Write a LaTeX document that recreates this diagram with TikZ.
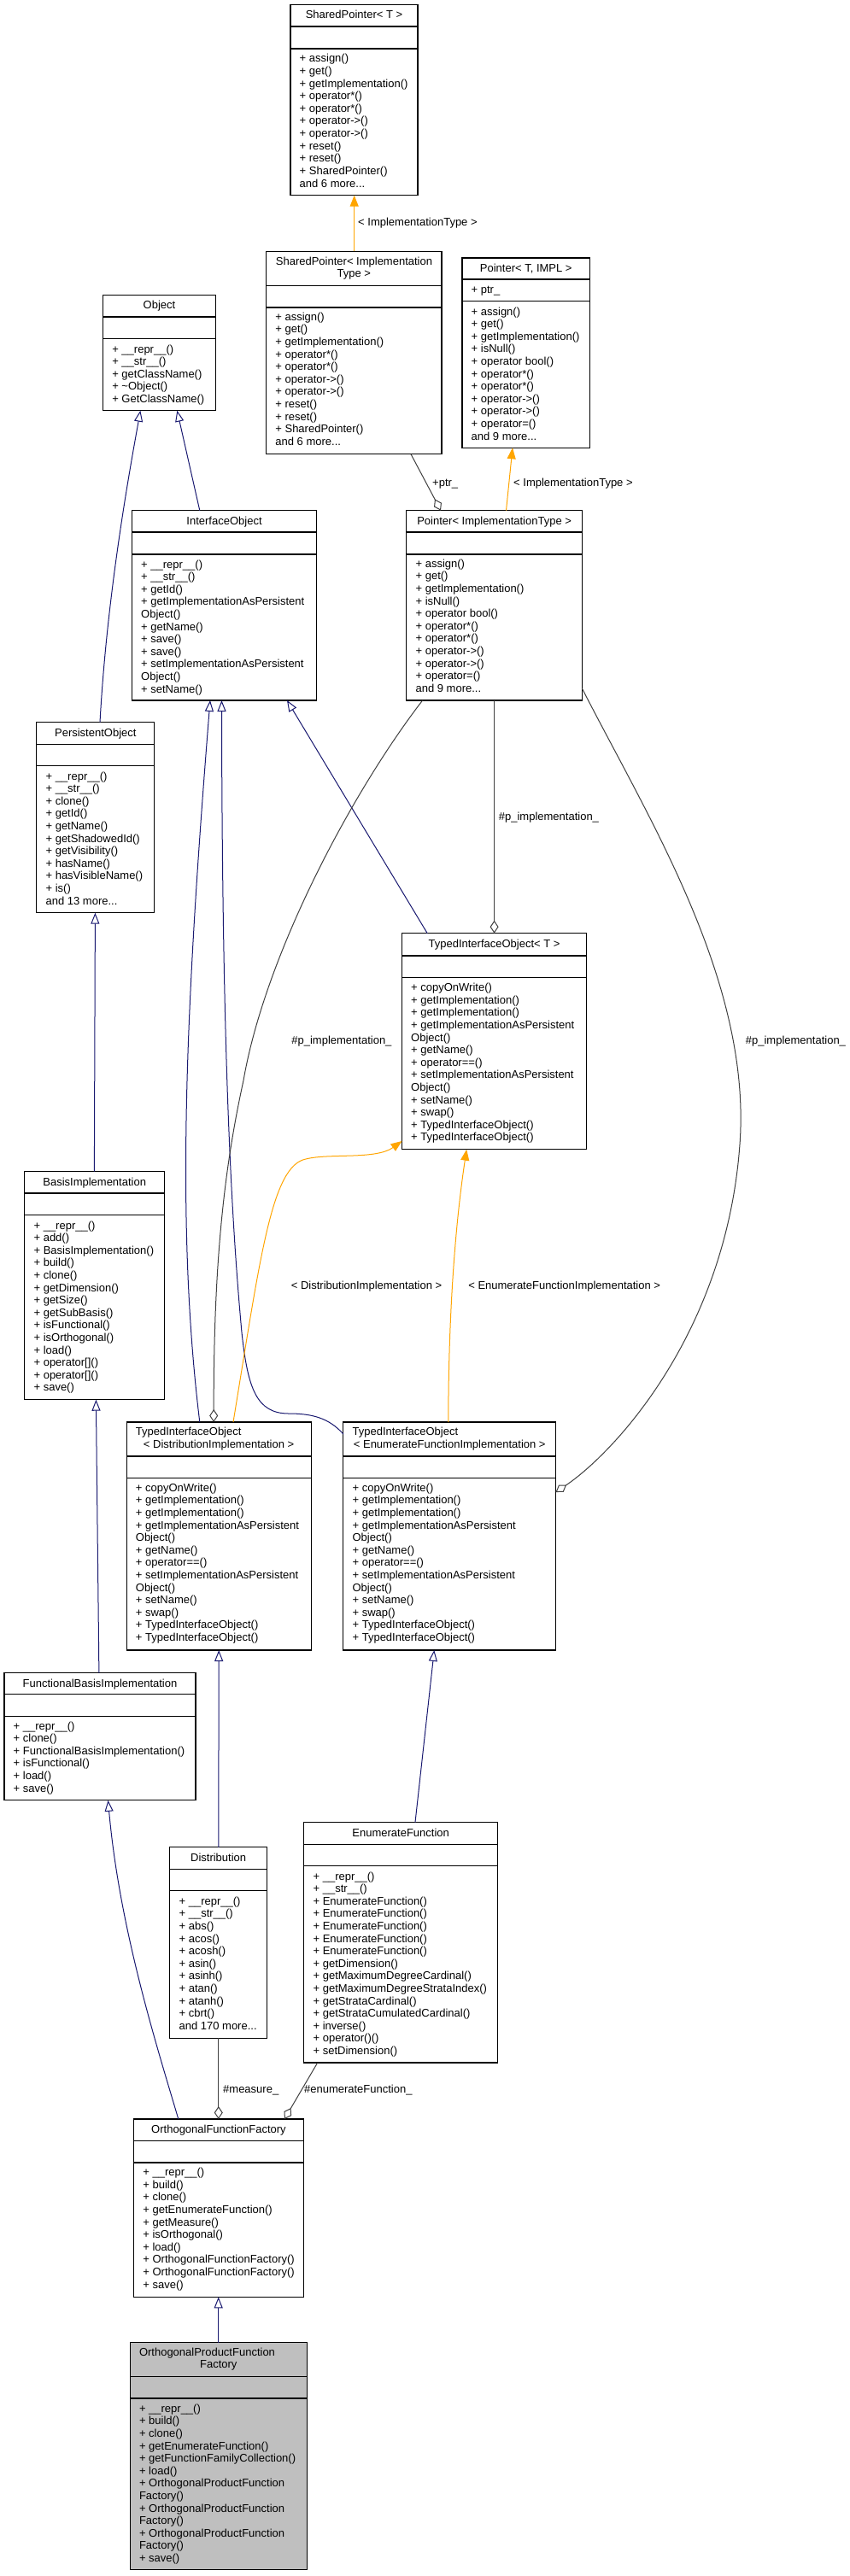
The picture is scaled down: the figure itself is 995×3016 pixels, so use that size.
\documentclass[tikz,border=0pt]{standalone}
\usepackage{fontspec}
\setmainfont{Liberation Sans}
\usetikzlibrary{arrows.meta,calc}
\definecolor{inhcol}{HTML}{191970}
\definecolor{tmplcol}{HTML}{FFA500}
\definecolor{usecol}{HTML}{404040}
\definecolor{focusfill}{HTML}{BFBFBF}
\tikzset{
  box/.style={draw=black, line width=1.1pt, fill=white, inner sep=0pt, outer sep=0pt},
  boxline/.style={draw=black, line width=1.1pt},
  mtext/.style={anchor=west, inner sep=0pt, text height=8pt, text depth=0pt, font=\fontsize{13}{14.6}\selectfont},
  ttext/.style={anchor=center, inner sep=0pt, text height=8pt, text depth=0pt, font=\fontsize{13}{14.6}\selectfont},
  lbl/.style={anchor=west, inner sep=0pt, text height=8pt, text depth=0pt, font=\fontsize{13}{14.6}\selectfont},
  inh/.style={draw=inhcol, line width=1pt, -{Triangle[open, length=13pt, width=10pt, line width=1pt]}},
  tmpl/.style={draw=tmplcol, line width=1pt, -{Triangle[length=13pt, width=10pt]}},
  use/.style={draw=usecol, line width=1pt, {Diamond[open, length=15pt, width=10pt, line width=1pt]}-},
}
\newcommand{\threedots}{...}
\newcommand{\umlbox}[8]{%
  \node[box,#8, minimum width={(#4)-(#2)}, minimum height={(#5)-(#3)}, anchor=north west] (#1) at (#2,#3) {};
  \draw[boxline] (#2,#6) -- (#4,#6) (#2,#7) -- (#4,#7);
}
\newcommand{\mlist}[4]{%
  \foreach \mt [count=\mi from 0] in {#4} {\node[mtext] (#1-\mi) at ({#2}, {#3+\mi*14.6}) {\mt};}
}
\begin{document}
\begin{tikzpicture}[x=1pt, y=-1pt]
\useasboundingbox (0,0) rectangle (995,3016);
\fill[white] (0,0) rectangle (995,3016);

% ---------- boxes ----------
% SharedPointer< T >
\umlbox{spT}{340}{5.7}{489}{228.7}{31}{57}{}
\node[ttext] (spT-t) at (414.5,18) {SharedPointer< T >};
\mlist{spT}{350.5}{69}{{+ assign()},{+ get()},{+ getImplementation()},{+ operator*()},{+ operator*()},{+ operator->()},{+ operator->()},{+ reset()},{+ reset()},{+ SharedPointer()},{and 6 more\threedots}}

% SharedPointer< ImplementationType >
\umlbox{spI}{311.7}{294.3}{517}{531.7}{334.3}{360}{}
\node[mtext] (spI-t1) at (322.7,306.3) {SharedPointer< Implementation};
\node[ttext] (spI-t2) at (414.35,320.7) {Type >};
\mlist{spI}{322.2}{371.3}{{+ assign()},{+ get()},{+ getImplementation()},{+ operator*()},{+ operator*()},{+ operator->()},{+ operator->()},{+ reset()},{+ reset()},{+ SharedPointer()},{and 6 more\threedots}}

% Pointer< T, IMPL >
\umlbox{ptrTI}{541}{302}{690.5}{524.3}{327}{352.3}{}
\node[ttext] (ptrTI-t) at (615.75,314) {Pointer< T, IMPL >};
\node[mtext] (ptrTI-a) at (551.5,339.3) {+ ptr\_};
\mlist{ptrTI}{551.5}{365}{{+ assign()},{+ get()},{+ getImplementation()},{+ isNull()},{+ operator bool()},{+ operator*()},{+ operator*()},{+ operator->()},{+ operator->()},{+ operator=()},{and 9 more\threedots}}

% Object
\umlbox{obj}{120.6}{345.7}{252.4}{480.7}{371}{396.7}{}
\node[ttext] (obj-t) at (186.5,357.8) {Object};
\mlist{obj}{131.1}{409}{{+ \_\_repr\_\_()},{+ \_\_str\_\_()},{+ getClassName()},{+ \textasciitilde Object()},{+ GetClassName()}}

% InterfaceObject
\umlbox{io}{154.5}{597.7}{370.6}{820}{623}{649}{}
\node[ttext] (io-t) at (262.55,610) {InterfaceObject};
\mlist{io}{165}{661}{{+ \_\_repr\_\_()},{+ \_\_str\_\_()},{+ getId()},{+ getImplementationAsPersistent},{Object()},{+ getName()},{+ save()},{+ save()},{+ setImplementationAsPersistent},{Object()},{+ setName()}}

% Pointer< ImplementationType >
\umlbox{ptrI}{475.9}{597.7}{681.4}{820}{623}{649}{}
\node[ttext] (ptrI-t) at (578.65,610) {Pointer< ImplementationType >};
\mlist{ptrI}{486.4}{660.3}{{+ assign()},{+ get()},{+ getImplementation()},{+ isNull()},{+ operator bool()},{+ operator*()},{+ operator*()},{+ operator->()},{+ operator->()},{+ operator=()},{and 9 more\threedots}}

% PersistentObject
\umlbox{po}{42.9}{845.7}{180.7}{1068.7}{871.3}{896.7}{}
\node[ttext] (po-t) at (111.8,858) {PersistentObject};
\mlist{po}{53.4}{909}{{+ \_\_repr\_\_()},{+ \_\_str\_\_()},{+ clone()},{+ getId()},{+ getName()},{+ getShadowedId()},{+ getVisibility()},{+ hasName()},{+ hasVisibleName()},{+ is()},{and 13 more\threedots}}

% TypedInterfaceObject< T >
\umlbox{tioT}{470.5}{1092.7}{686.6}{1345.7}{1119}{1144.7}{}
\node[ttext] (tioT-t) at (578.55,1105.7) {TypedInterfaceObject< T >};
\mlist{tioT}{481}{1156.7}{{+ copyOnWrite()},{+ getImplementation()},{+ getImplementation()},{+ getImplementationAsPersistent},{Object()},{+ getName()},{+ operator==()},{+ setImplementationAsPersistent},{Object()},{+ setName()},{+ swap()},{+ TypedInterfaceObject()},{+ TypedInterfaceObject()}}

% BasisImplementation
\umlbox{bi}{28.9}{1371.7}{192.5}{1638.7}{1397}{1422.7}{}
\node[ttext] (bi-t) at (110.7,1384) {BasisImplementation};
\mlist{bi}{39.4}{1435}{{+ \_\_repr\_\_()},{+ add()},{+ BasisImplementation()},{+ build()},{+ clone()},{+ getDimension()},{+ getSize()},{+ getSubBasis()},{+ isFunctional()},{+ isOrthogonal()},{+ load()},{+ operator[]()},{+ operator[]()},{+ save()}}

% TypedInterfaceObject< DistributionImplementation >
\umlbox{tioD}{148.2}{1665}{364.1}{1932}{1705}{1730.7}{}
\node[mtext] (tioD-t1) at (158.7,1676.3) {TypedInterfaceObject};
\node[ttext] (tioD-t2) at (256.15,1691.7) {< DistributionImplementation >};
\mlist{tioD}{158.7}{1742.3}{{+ copyOnWrite()},{+ getImplementation()},{+ getImplementation()},{+ getImplementationAsPersistent},{Object()},{+ getName()},{+ operator==()},{+ setImplementationAsPersistent},{Object()},{+ setName()},{+ swap()},{+ TypedInterfaceObject()},{+ TypedInterfaceObject()}}

% TypedInterfaceObject< EnumerateFunctionImplementation >
\umlbox{tioE}{401.9}{1665}{650.6}{1932}{1705}{1730.7}{}
\node[mtext] (tioE-t1) at (412.4,1676.3) {TypedInterfaceObject};
\node[ttext] (tioE-t2) at (526.25,1691.7) {< EnumerateFunctionImplementation >};
\mlist{tioE}{412.4}{1742.3}{{+ copyOnWrite()},{+ getImplementation()},{+ getImplementation()},{+ getImplementationAsPersistent},{Object()},{+ getName()},{+ operator==()},{+ setImplementationAsPersistent},{Object()},{+ setName()},{+ swap()},{+ TypedInterfaceObject()},{+ TypedInterfaceObject()}}

% FunctionalBasisImplementation
\umlbox{fbi}{5}{1958.7}{229}{2107.8}{1983.7}{2009.3}{}
\node[ttext] (fbi-t) at (117,1971) {FunctionalBasisImplementation};
\mlist{fbi}{15.5}{2021}{{+ \_\_repr\_\_()},{+ clone()},{+ FunctionalBasisImplementation()},{+ isFunctional()},{+ load()},{+ save()}}

% Distribution
\umlbox{dist}{198.9}{2162.9}{312.4}{2386.1}{2188.7}{2213.5}{}
\node[ttext] (dist-t) at (255.65,2175) {Distribution};
\mlist{dist}{209.4}{2226.3}{{+ \_\_repr\_\_()},{+ \_\_str\_\_()},{+ abs()},{+ acos()},{+ acosh()},{+ asin()},{+ asinh()},{+ atan()},{+ atanh()},{+ cbrt()},{and 170 more\threedots}}

% EnumerateFunction
\umlbox{ef}{355.9}{2133.6}{582.4}{2415}{2159.1}{2184.9}{}
\node[ttext] (ef-t) at (469.15,2146) {EnumerateFunction};
\mlist{ef}{366.4}{2197}{{+ \_\_repr\_\_()},{+ \_\_str\_\_()},{+ EnumerateFunction()},{+ EnumerateFunction()},{+ EnumerateFunction()},{+ EnumerateFunction()},{+ EnumerateFunction()},{+ getDimension()},{+ getMaximumDegreeCardinal()},{+ getMaximumDegreeStrataIndex()},{+ getStrataCardinal()},{+ getStrataCumulatedCardinal()},{+ inverse()},{+ operator()()},{+ setDimension()}}

% OrthogonalFunctionFactory
\umlbox{ofac}{156.7}{2481}{355.3}{2689.3}{2506.7}{2532}{}
\node[ttext] (ofac-t) at (256,2493) {OrthogonalFunctionFactory};
\mlist{ofac}{167.2}{2543.7}{{+ \_\_repr\_\_()},{+ build()},{+ clone()},{+ getEnumerateFunction()},{+ getMeasure()},{+ isOrthogonal()},{+ load()},{+ OrthogonalFunctionFactory()},{+ OrthogonalFunctionFactory()},{+ save()}}

% OrthogonalProductFunctionFactory
\umlbox{opfac}{152.3}{2742.7}{359.3}{3008.7}{2782.7}{2808}{fill=focusfill}
\node[mtext] (opfac-t1) at (162.8,2754.3) {OrthogonalProductFunction};
\node[ttext] (opfac-t2) at (255.8,2768.3) {Factory};
\mlist{opfac}{162.8}{2820.3}{{+ \_\_repr\_\_()},{+ build()},{+ clone()},{+ getEnumerateFunction()},{+ getFunctionFamilyCollection()},{+ load()},{+ OrthogonalProductFunction},{Factory()},{+ OrthogonalProductFunction},{Factory()},{+ OrthogonalProductFunction},{Factory()},{+ save()}}

% ---------- connectors ----------
\draw[tmpl] (spI.north -| 414.7,0) -- (spT.south -| 414.7,0);
\draw[tmpl] (ptrI.north -| 592.5,0) -- (ptrTI.south -| 600,0);
\draw[use] (ptrI.north -| 516,0) -- (spI.south -| 481,0);
\draw[inh] (po.north -| 117,0) .. controls (125,700) and (150,560) .. (obj.south -| 164.4,0);
\draw[inh] (io.north -| 233.8,0) -- (obj.south -| 207.3,0);
\draw[inh] (tioD.north -| 233.8,0) .. controls (205,1430) and (218,1170) .. (io.south -| 246,0);
\draw[inh] (tioE.west |- 0,1679) .. controls (385,1660) and (365,1655) .. (338,1655)
  .. controls (300,1655) and (290,1625) .. (283,1560)
  .. controls (272,1440) and (260,1250) .. (io.south -| 259.5,0);
\draw[inh] (tioT.north -| 500.2,0) -- (io.south -| 336,0);
\draw[use] (tioT.north -| 578.6,0) -- (ptrI.south -| 578.6,0);
\draw[use] (tioD.north -| 250.2,0) .. controls (250,1480) and (262,1370) .. (285,1265)
  .. controls (310,1120) and (410,930) .. (ptrI.south -| 494.6,0);
\draw[use] (tioE.east |- 0,1747) .. controls (720,1700) and (850,1560) .. (866,1340)
  .. controls (880,1150) and (760,960) .. (ptrI.east |- 0,806);
\draw[tmpl] (tioD.north -| 273,0) .. controls (305,1470) and (318,1365) .. (358,1357)
  .. controls (385,1350) and (440,1358) .. (tioT.west |- 0,1336);
\draw[tmpl] (tioE.north -| 524.8,0) .. controls (525,1520) and (535,1420) .. (tioT.south -| 546.2,0);
\draw[inh] (bi.north -| 110.4,0) -- (po.south -| 111.4,0);
\draw[inh] (fbi.north -| 115.9,0) -- (bi.south -| 112.4,0);
\draw[inh] (dist.north -| 255.8,0) -- (tioD.south -| 256.2,0);
\draw[inh] (ef.north -| 486,0) -- (tioE.south -| 508.3,0);
\draw[inh] (ofac.north -| 208.8,0) .. controls (185,2400) and (140,2260) .. (fbi.south -| 126.5,0);
\draw[use] (ofac.north -| 255.8,0) -- (dist.south -| 255.8,0);
\draw[use] (ofac.north -| 333,0) -- (ef.south -| 371.7,0);
\draw[inh] (opfac.north -| 255.7,0) -- (ofac.south -| 255.7,0);

% ---------- connector labels ----------
\node[lbl] (l1) at (419,260.7) {< ImplementationType >};
\node[lbl] (l2) at (601,565) {< ImplementationType >};
\node[lbl] (l3) at (506,565) {+ptr\_};
\node[lbl] (l4) at (583.7,956.7) {\#p\_implementation\_};
\node[lbl] (l5) at (341.2,1218.7) {\#p\_implementation\_};
\node[lbl] (l6) at (872.7,1218.2) {\#p\_implementation\_};
\node[lbl] (l7) at (340.7,1505) {< DistributionImplementation >};
\node[lbl] (l8) at (548.1,1505) {< EnumerateFunctionImplementation >};
\node[lbl] (l9) at (261,2446.7) {\#measure\_};
\node[lbl] (l10) at (355.9,2446.7) {\#enumerateFunction\_};
\end{tikzpicture}
\end{document}
